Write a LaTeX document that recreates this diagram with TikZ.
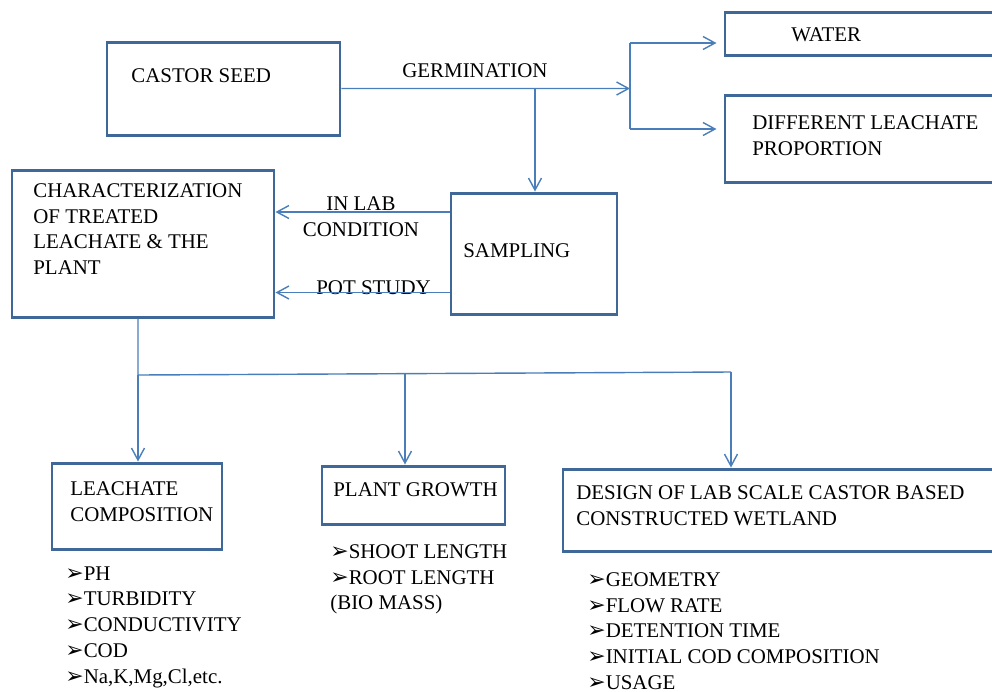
\documentclass[tikz,border=0pt]{standalone}
\usepackage{fontspec}
\setmainfont{Liberation Serif}
\newfontfamily\dejavu{DejaVu Sans}
\usepackage{tikz}
\usetikzlibrary{arrows.meta,fit}
\definecolor{boxBlue}{HTML}{3F6797}
\definecolor{lineBlue}{HTML}{4A7EBB}
\newcommand{\arrowbul}{\raisebox{0pt}{\dejavu\fontsize{12.5}{12.5}\selectfont ➢}}

\begin{document}
\begin{tikzpicture}[x=0.02cm, y=-0.02cm,
                    fbox/.style={draw=boxBlue, line width=1.7pt, inner sep=0pt},
                    txt/.style={anchor=north west, inner sep=0pt, align=left},
                    arr/.style={-{Straight Barb[length=2.4mm,width=2.6mm]}, line width=0.8pt, color=lineBlue},
                    ln/.style={line width=0.8pt, color=lineBlue},
                    font=\fontsize{11.9}{14.7}\selectfont
                ]
                    \useasboundingbox (0,0) rectangle (992,691);
                    \clip (0,0) rectangle (992,691);
                    % boxes
                    \node[fbox, fit={(107,42) (340,135)}] (seed) {};
                    \node[fbox, fit={(725,12) (1010,55)}] (water) {};
                    \node[fbox, fit={(725,95) (1010,182)}] (prop) {};
                    \node[fbox, fit={(12,170) (274,317)}] (charact) {};
                    \node[fbox, fit={(451,193) (617,314)}] (sampling) {};
                    \node[fbox, fit={(52,463) (222,549)}] (leachcomp) {};
                    \node[fbox, fit={(322,466) (505,524)}] (growth) {};
                    \node[fbox, fit={(563,469) (1010,551)}] (design) {};
                    % texts
                    \node[txt] (seedtxt) at (131,68) {CASTOR SEED};
                    \node[txt] (germ) at (402,63) {GERMINATION};
                    \node[txt] (watertxt) at (791,27) {WATER};
                    \node[txt] (proptxt) at (752,115) {DIFFERENT LEACHATE\\PROPORTION};
                    \node[txt] (characttxt) at (33,183) {CHARACTERIZATION\\OF TREATED\\LEACHATE \& THE\\PLANT};
                    \node[inner sep=0pt, align=center] (lab) at (361,216.5) {IN LAB\\CONDITION};
                    \node[txt] (pot) at (316,280) {POT STUDY};
                    \node[txt] (samplingtxt) at (463,243) {SAMPLING};
                    \node[txt] (leachtxt) at (70,481) {LEACHATE\\COMPOSITION};
                    \node[txt] (growthtxt) at (333,482) {PLANT GROWTH};
                    \node[txt] (designtxt) at (576,485) {DESIGN OF LAB SCALE CASTOR BASED\\CONSTRUCTED WETLAND};
                    \node[txt] (leachlist) at (65,566) {\arrowbul PH\\\arrowbul TURBIDITY\\\arrowbul CONDUCTIVITY\\\arrowbul COD\\\arrowbul Na,K,Mg,Cl,etc.};
                    \node[txt] (growthlist) at (330,544) {\arrowbul SHOOT LENGTH\\\arrowbul ROOT LENGTH\\(BIO MASS)};
                    \node[txt] (designlist) at (587,572) {\arrowbul GEOMETRY\\\arrowbul FLOW RATE\\\arrowbul DETENTION TIME\\\arrowbul INITIAL COD COMPOSITION\\\arrowbul USAGE};
                    % connectors
                    \coordinate (split) at (630,88.5);
                    \coordinate (splittop) at (630,43);
                    \coordinate (splitbot) at (630,129);
                    \coordinate (drop) at (535,88.5);
                    \coordinate (labrow) at (0,212);
                    \coordinate (potrow) at (0,292.5);
                    \coordinate (bus) at (138,375);
                    \coordinate (busmid) at (405,373.5);
                    \coordinate (busend) at (731,372);
                    \draw[arr] (seed.east) -- (split);
                    \draw[ln] (splittop) -- (splitbot);
                    \draw[arr, shorten >=4pt] (splittop) -- (water.west |- splittop);
                    \draw[arr, shorten >=4pt] (splitbot) -- (prop.west |- splitbot);
                    \draw[arr] (drop) -- (drop |- sampling.north);
                    \draw[arr] (sampling.west |- labrow) -- (charact.east |- labrow);
                    \draw[arr] (sampling.west |- potrow) -- (charact.east |- potrow);
                    \draw[ln] (bus |- charact.south) -- (bus) -- (busend);
                    \draw[arr] (bus) -- (bus |- leachcomp.north);
                    \draw[arr] (busmid) -- (busmid |- growth.north);
                    \draw[arr] (busend) -- (busend |- design.north);
                \end{tikzpicture}
\end{document}
